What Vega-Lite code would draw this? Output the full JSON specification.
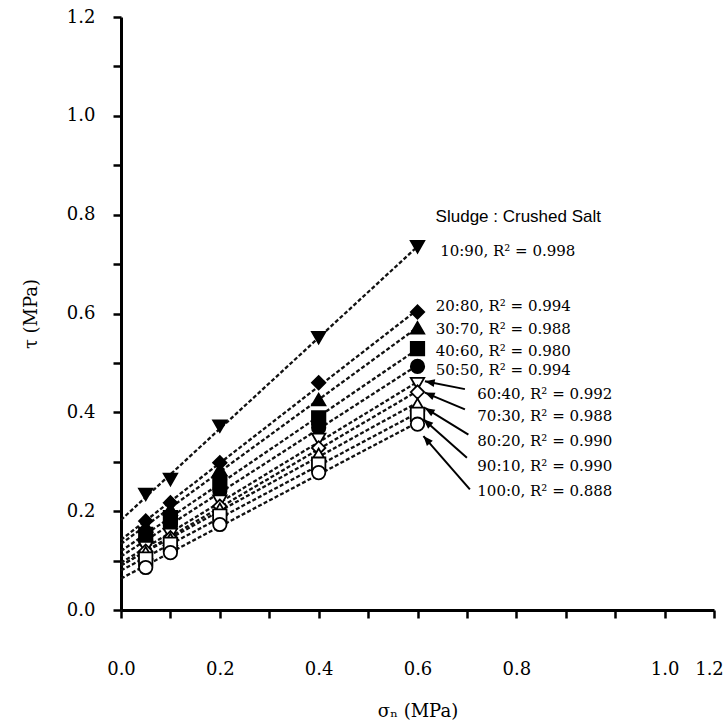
{
  "$schema": "https://vega.github.io/schema/vega-lite/v6.json",
  "width": 593,
  "height": 593,
  "autosize": {"type": "none"},
  "padding": {"left": 121, "top": 17, "right": 12, "bottom": 113},
  "background": "white",
  "config": {
    "view": {"stroke": null},
    "axis": {
      "grid": false,
      "domainColor": "black",
      "domainWidth": 3,
      "tickColor": "black",
      "tickWidth": 2.5,
      "tickSize": 8,
      "labelFont": "DejaVu Serif",
      "labelFontSize": 18,
      "labelColor": "black",
      "titleFont": "DejaVu Serif",
      "titleFontSize": 18,
      "titleFontWeight": "normal",
      "titleColor": "black",
      "labelFlush": false,
      "labelOverlap": false
    }
  },
  "datasets": {
    "points": [
      {"series": "10:90", "sigma": 0.05, "tau": 0.234},
      {"series": "10:90", "sigma": 0.1, "tau": 0.264},
      {"series": "10:90", "sigma": 0.2, "tau": 0.372},
      {"series": "10:90", "sigma": 0.4, "tau": 0.551},
      {"series": "10:90", "sigma": 0.6, "tau": 0.735},
      {"series": "20:80", "sigma": 0.05, "tau": 0.18},
      {"series": "20:80", "sigma": 0.1, "tau": 0.217},
      {"series": "20:80", "sigma": 0.2, "tau": 0.298},
      {"series": "20:80", "sigma": 0.4, "tau": 0.46},
      {"series": "20:80", "sigma": 0.6, "tau": 0.603},
      {"series": "30:70", "sigma": 0.05, "tau": 0.17},
      {"series": "30:70", "sigma": 0.1, "tau": 0.204},
      {"series": "30:70", "sigma": 0.2, "tau": 0.284},
      {"series": "30:70", "sigma": 0.4, "tau": 0.426},
      {"series": "30:70", "sigma": 0.6, "tau": 0.571},
      {"series": "40:60", "sigma": 0.05, "tau": 0.153},
      {"series": "40:60", "sigma": 0.1, "tau": 0.187},
      {"series": "40:60", "sigma": 0.2, "tau": 0.258},
      {"series": "40:60", "sigma": 0.4, "tau": 0.389},
      {"series": "40:60", "sigma": 0.6, "tau": 0.529},
      {"series": "50:50", "sigma": 0.05, "tau": 0.14},
      {"series": "50:50", "sigma": 0.1, "tau": 0.17},
      {"series": "50:50", "sigma": 0.2, "tau": 0.241},
      {"series": "50:50", "sigma": 0.4, "tau": 0.369},
      {"series": "50:50", "sigma": 0.6, "tau": 0.493},
      {"series": "60:40", "sigma": 0.05, "tau": 0.126},
      {"series": "60:40", "sigma": 0.1, "tau": 0.153},
      {"series": "60:40", "sigma": 0.2, "tau": 0.22},
      {"series": "60:40", "sigma": 0.4, "tau": 0.345},
      {"series": "60:40", "sigma": 0.6, "tau": 0.458},
      {"series": "70:30", "sigma": 0.05, "tau": 0.119},
      {"series": "70:30", "sigma": 0.1, "tau": 0.146},
      {"series": "70:30", "sigma": 0.2, "tau": 0.21},
      {"series": "70:30", "sigma": 0.4, "tau": 0.328},
      {"series": "70:30", "sigma": 0.6, "tau": 0.441},
      {"series": "80:20", "sigma": 0.05, "tau": 0.116},
      {"series": "80:20", "sigma": 0.1, "tau": 0.143},
      {"series": "80:20", "sigma": 0.2, "tau": 0.204},
      {"series": "80:20", "sigma": 0.4, "tau": 0.315},
      {"series": "80:20", "sigma": 0.6, "tau": 0.416},
      {"series": "90:10", "sigma": 0.05, "tau": 0.103},
      {"series": "90:10", "sigma": 0.1, "tau": 0.133},
      {"series": "90:10", "sigma": 0.2, "tau": 0.19},
      {"series": "90:10", "sigma": 0.4, "tau": 0.295},
      {"series": "90:10", "sigma": 0.6, "tau": 0.396},
      {"series": "100:0", "sigma": 0.05, "tau": 0.086},
      {"series": "100:0", "sigma": 0.1, "tau": 0.116},
      {"series": "100:0", "sigma": 0.2, "tau": 0.173},
      {"series": "100:0", "sigma": 0.4, "tau": 0.278},
      {"series": "100:0", "sigma": 0.6, "tau": 0.376}
    ],
    "labels": [
      {"label": "10:90, R² = 0.998", "sigma": 0.646, "tau": 0.727},
      {"label": "20:80, R² = 0.994", "sigma": 0.637, "tau": 0.615},
      {"label": "30:70, R² = 0.988", "sigma": 0.637, "tau": 0.569},
      {"label": "40:60, R² = 0.980", "sigma": 0.637, "tau": 0.524},
      {"label": "50:50, R² = 0.994", "sigma": 0.637, "tau": 0.485},
      {"label": "60:40, R² = 0.992", "sigma": 0.721, "tau": 0.438},
      {"label": "70:30, R² = 0.988", "sigma": 0.721, "tau": 0.392},
      {"label": "80:20, R² = 0.990", "sigma": 0.721, "tau": 0.342},
      {"label": "90:10, R² = 0.990", "sigma": 0.721, "tau": 0.291},
      {"label": "100:0, R² = 0.888", "sigma": 0.721, "tau": 0.241}
    ],
    "arrows": [
      {"series": "60:40", "sigma": 0.696, "tau": 0.447, "sigma2": 0.615, "tau2": 0.463},
      {"series": "70:30", "sigma": 0.696, "tau": 0.406, "sigma2": 0.615, "tau2": 0.44},
      {"series": "80:20", "sigma": 0.703, "tau": 0.355, "sigma2": 0.615, "tau2": 0.409},
      {"series": "90:10", "sigma": 0.7, "tau": 0.308, "sigma2": 0.612, "tau2": 0.386},
      {"series": "100:0", "sigma": 0.706, "tau": 0.244, "sigma2": 0.612, "tau2": 0.352}
    ],
    "heading": [
      {"label": "Sludge : Crushed Salt", "sigma": 0.804, "tau": 0.796}
    ]
  },
  "layer": [
    {
      "data": {"name": "points"},
      "transform": [
        {"regression": "tau", "on": "sigma", "groupby": ["series"], "extent": [0, 0.6]}
      ],
      "mark": {"type": "line", "color": "#111", "strokeWidth": 2.3, "strokeDash": [4, 2.2]},
      "encoding": {
        "detail": {"field": "series"},
        "x": {
          "field": "sigma", "type": "quantitative",
          "scale": {"domain": [0, 1.2], "nice": false, "zero": false},
          "axis": {
            "title": "σₙ (MPa)",
            "values": [0, 0.05, 0.1, 0.15, 0.2, 0.25, 0.3, 0.35, 0.4, 0.45, 0.5, 0.55, 0.6, 0.65, 0.7, 0.75, 0.8, 0.85, 0.9, 0.95, 1.0, 1.05, 1.1, 1.15, 1.2],
            "labelExpr": "datum.value === 0 ? '0.0' : datum.value === 0.2 ? '0.2' : datum.value === 0.4 ? '0.4' : datum.value === 0.6 ? '0.6' : datum.value === 0.8 ? '0.8' : datum.value === 1.1 ? '1.0' : datum.value === 1.2 ? '1.2' : ''",
            "labelOffset": {"expr": "datum.value === 1.2 ? -5 : 0"},
            "labelPadding": 42,
            "titlePadding": 24
          }
        },
        "y": {
          "field": "tau", "type": "quantitative",
          "scale": {"domain": [0, 1.2], "nice": false, "zero": false},
          "axis": {
            "title": "τ (MPa)",
            "values": [0, 0.05, 0.1, 0.15, 0.2, 0.25, 0.3, 0.35, 0.4, 0.45, 0.5, 0.55, 0.6, 0.65, 0.7, 0.75, 0.8, 0.85, 0.9, 0.95, 1.0, 1.05, 1.1, 1.15, 1.2],
            "labelExpr": "datum.value === 0 ? '0.0' : datum.value === 0.2 ? '0.2' : datum.value === 0.4 ? '0.4' : datum.value === 0.6 ? '0.6' : datum.value === 0.8 ? '0.8' : datum.value === 1.0 ? '1.0' : datum.value === 1.2 ? '1.2' : ''",
            "labelPadding": 18,
            "titlePadding": 26
          }
        }
      }
    },
    {
      "data": {"name": "points"},
      "mark": {"type": "point", "filled": false, "stroke": "black", "strokeWidth": 1.8, "opacity": 1, "size": 180},
      "encoding": {
        "x": {"field": "sigma", "type": "quantitative"},
        "y": {"field": "tau", "type": "quantitative"},
        "shape": {
          "field": "series", "type": "nominal", "legend": null,
          "scale": {
            "domain": ["10:90", "20:80", "30:70", "40:60", "50:50", "60:40", "70:30", "80:20", "90:10", "100:0"],
            "range": ["triangle-down", "diamond", "triangle-up", "square", "circle", "triangle-down", "diamond", "triangle-up", "square", "circle"]
          }
        },
        "fill": {
          "field": "series", "type": "nominal", "legend": null,
          "scale": {
            "domain": ["10:90", "20:80", "30:70", "40:60", "50:50", "60:40", "70:30", "80:20", "90:10", "100:0"],
            "range": ["black", "black", "black", "black", "black", "white", "white", "white", "white", "white"]
          }
        }
      }
    },
    {
      "data": {"name": "arrows"},
      "mark": {"type": "rule", "color": "black", "strokeWidth": 2},
      "encoding": {
        "x": {"field": "sigma", "type": "quantitative"},
        "y": {"field": "tau", "type": "quantitative"},
        "x2": {"field": "sigma2"},
        "y2": {"field": "tau2"}
      }
    },
    {
      "data": {"name": "arrows"},
      "transform": [
        {"calculate": "atan2(datum.sigma2 - datum.sigma, datum.tau2 - datum.tau) * 180 / PI + 360", "as": "dir"}
      ],
      "mark": {"type": "point", "shape": "M0,0L0.4,1L-0.4,1Z", "filled": true, "color": "black", "opacity": 1, "size": 380},
      "encoding": {
        "x": {"field": "sigma2", "type": "quantitative"},
        "y": {"field": "tau2", "type": "quantitative"},
        "angle": {"field": "dir", "type": "quantitative", "scale": null}
      }
    },
    {
      "data": {"name": "labels"},
      "mark": {"type": "text", "align": "left", "baseline": "middle", "font": "DejaVu Serif", "fontSize": 15, "color": "black"},
      "encoding": {
        "x": {"field": "sigma", "type": "quantitative"},
        "y": {"field": "tau", "type": "quantitative"},
        "text": {"field": "label"}
      }
    },
    {
      "data": {"name": "heading"},
      "mark": {"type": "text", "align": "center", "baseline": "middle", "font": "Liberation Sans", "fontSize": 17, "color": "black"},
      "encoding": {
        "x": {"field": "sigma", "type": "quantitative"},
        "y": {"field": "tau", "type": "quantitative"},
        "text": {"field": "label"}
      }
    }
  ]
}
